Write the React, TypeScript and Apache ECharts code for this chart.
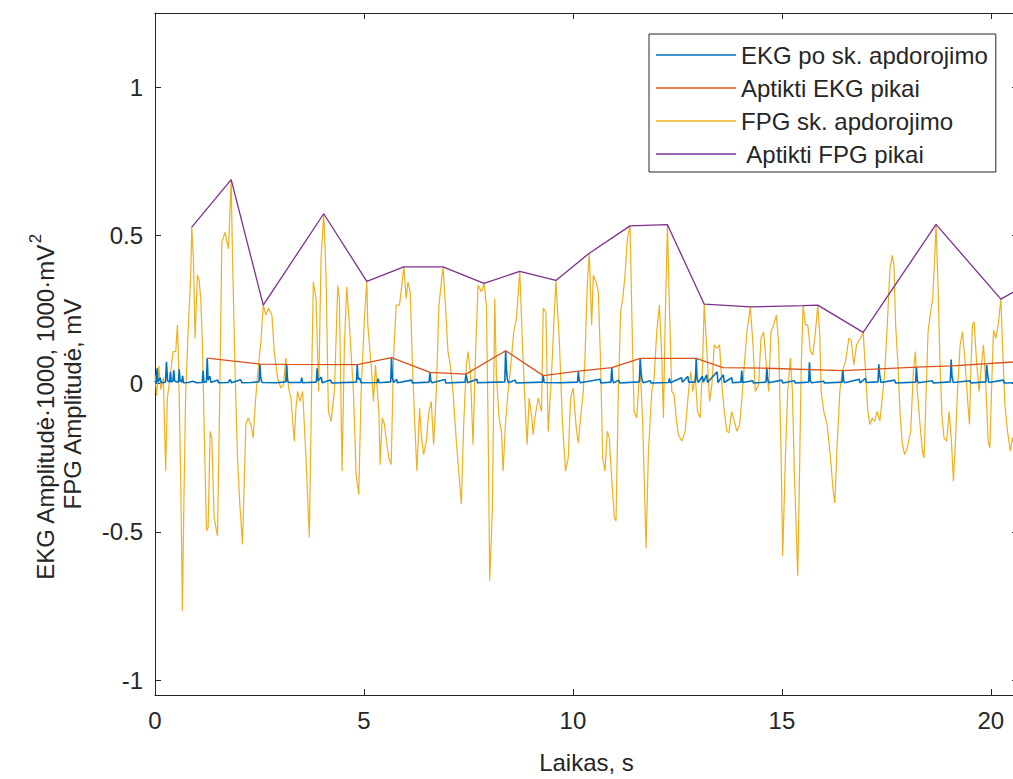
import React, { useEffect, useRef } from "react";
import * as echarts from "echarts";

const xTicks = [0, 5, 10, 15, 20];
const yTicks = [-1, -0.5, 0, 0.5, 1];

const ekg: number[][] = [
  [0, 0.01], [0.03, 0.0], [0.05, 0.052], [0.07, 0.005], [0.12, 0.02], [0.15, 0.003], [0.25, 0.005], [0.275, 0.074], [0.3, 0.01],
  [0.35, 0.005], [0.37, 0.04], [0.39, 0.005], [0.43, 0.01], [0.45, 0.045], [0.47, 0.008], [0.56, 0.005], [0.58, 0.048], [0.6, 0.01],
  [0.64, 0.005], [0.66, 0.026], [0.68, 0.003], [0.8, 0.004], [0.9, 0.008], [1.0, 0.003], [1.13, 0.004], [1.15, 0.043], [1.17, 0.005],
  [1.23, 0.006], [1.25, 0.086], [1.27, 0.012], [1.31, 0.025], [1.34, 0.004], [1.5, 0.012], [1.52, 0.003], [1.75, 0.004], [1.8, 0.014],
  [1.83, 0.003], [2.05, 0.013], [2.08, 0.003], [2.3, 0.004], [2.49, 0.006], [2.51, 0.066], [2.53, 0.02], [2.56, 0.004], [2.9, 0.003],
  [3.13, 0.006], [3.15, 0.064], [3.17, 0.01], [3.2, 0.004], [3.49, 0.004], [3.51, 0.02], [3.53, 0.003], [3.86, 0.005], [3.88, 0.052],
  [3.9, 0.01], [3.98, 0.022], [4.0, 0.003], [4.2, 0.012], [4.23, 0.002], [4.82, 0.005], [4.84, 0.064], [4.86, 0.015], [4.9, 0.018],
  [4.93, 0.003], [5.32, 0.004], [5.34, 0.017], [5.36, 0.003], [5.64, 0.006], [5.66, 0.088], [5.68, 0.02], [5.71, 0.004], [5.78, 0.015],
  [5.8, 0.003], [6.14, 0.012], [6.16, 0.002], [6.56, 0.005], [6.58, 0.038], [6.6, 0.01], [6.63, 0.003], [6.94, 0.014], [6.96, 0.002],
  [7.42, 0.005], [7.44, 0.032], [7.46, 0.02], [7.48, 0.003], [7.7, 0.015], [7.72, 0.003], [8.37, 0.006], [8.39, 0.111], [8.41, 0.05],
  [8.43, 0.015], [8.46, 0.003], [8.62, 0.012], [8.64, 0.002], [9.27, 0.005], [9.29, 0.027], [9.31, 0.004], [9.7, 0.003], [10.11, 0.005],
  [10.13, 0.042], [10.15, 0.01], [10.18, 0.003], [10.65, 0.015], [10.67, 0.002], [10.91, 0.005], [10.93, 0.054], [10.95, 0.01],
  [10.98, 0.003], [11.1, 0.012], [11.12, 0.002], [11.59, 0.006], [11.61, 0.085], [11.63, 0.04], [11.65, 0.015], [11.68, 0.003],
  [11.85, 0.01], [11.87, 0.002], [12.29, 0.004], [12.31, 0.018], [12.33, 0.003], [12.6, 0.02], [12.62, 0.005], [12.75, 0.025],
  [12.77, 0.005], [12.93, 0.006], [12.95, 0.085], [12.97, 0.02], [13.0, 0.004], [13.1, 0.025], [13.12, 0.005], [13.2, 0.03],
  [13.22, 0.004], [13.45, 0.04], [13.47, 0.004], [13.6, 0.03], [13.62, 0.004], [13.8, 0.02], [13.82, 0.003], [14.02, 0.005],
  [14.04, 0.044], [14.06, 0.004], [14.3, 0.01], [14.32, 0.002], [14.62, 0.005], [14.64, 0.052], [14.66, 0.015], [14.69, 0.003],
  [15.0, 0.012], [15.02, 0.002], [15.3, 0.01], [15.32, 0.002], [15.64, 0.005], [15.66, 0.072], [15.68, 0.01], [15.71, 0.003],
  [16.0, 0.008], [16.02, 0.002], [16.44, 0.005], [16.46, 0.044], [16.48, 0.008], [16.51, 0.003], [16.85, 0.015], [16.87, 0.003],
  [17.0, 0.018], [17.02, 0.004], [17.3, 0.006], [17.32, 0.065], [17.34, 0.03], [17.37, 0.004], [17.7, 0.012], [17.72, 0.002],
  [18.2, 0.005], [18.22, 0.056], [18.24, 0.01], [18.27, 0.003], [18.6, 0.01], [18.62, 0.002], [19.03, 0.006], [19.05, 0.081],
  [19.07, 0.025], [19.1, 0.004], [19.5, 0.01], [19.52, 0.002], [19.88, 0.006], [19.9, 0.063], [19.92, 0.035], [19.95, 0.004],
  [20.3, 0.012], [20.32, 0.002], [20.65, 0.004],
];

const ekgPeaks: number[][] = [
  [1.25, 0.086], [2.51, 0.066], [3.15, 0.065], [4.84, 0.064], [5.66, 0.088], [6.58, 0.038], [7.44, 0.032], [8.39, 0.111],
  [9.29, 0.027], [10.13, 0.042], [10.93, 0.054], [11.61, 0.085], [12.95, 0.085], [13.59, 0.054], [14.64, 0.052], [16.46, 0.044],
  [18.22, 0.056], [19.07, 0.06], [20.65, 0.074],
];

const fpg: number[][] = [
  [0, 0.03], [0.04, -0.04], [0.09, 0.06], [0.14, -0.02], [0.2, 0.02], [0.256, -0.295], [0.296, -0.049], [0.376, 0.041], [0.432, 0.108],
  [0.496, 0.108], [0.536, 0.198], [0.56, 0.097], [0.615, -0.318], [0.655, -0.766], [0.695, -0.362], [0.735, -0.026], [0.8, 0.198],
  [0.855, 0.366], [0.879, 0.528], [0.919, 0.422], [0.959, 0.153], [1.015, 0.366], [1.055, 0.349], [1.095, 0.287], [1.135, 0.131],
  [1.175, -0.138], [1.231, -0.496], [1.271, -0.485], [1.319, -0.161], [1.359, -0.183], [1.415, -0.452], [1.495, -0.514], [1.551, -0.026],
  [1.599, 0.478], [1.679, 0.511], [1.719, 0.478], [1.759, 0.455], [1.823, 0.688], [1.855, 0.422], [1.918, 0.03], [1.974, -0.25],
  [2.03, -0.407], [2.094, -0.542], [2.174, -0.138], [2.23, -0.116], [2.294, -0.138], [2.35, -0.183], [2.398, -0.071], [2.454, 0.03],
  [2.534, 0.142], [2.59, 0.265], [2.654, 0.231], [2.718, 0.254], [2.798, 0.231], [2.854, 0.108], [2.934, 0.018], [3.014, -0.015],
  [3.07, -0.004], [3.134, 0.086], [3.197, -0.015], [3.253, -0.049], [3.333, -0.194], [3.373, -0.082], [3.413, -0.026], [3.469, -0.06],
  [3.533, -0.026], [3.613, -0.25], [3.693, -0.519], [3.757, 0.086], [3.789, 0.343], [3.853, 0.287], [3.917, -0.026], [3.973, 0.422],
  [4.037, 0.573], [4.093, 0.366], [4.149, -0.094], [4.213, -0.127], [4.293, -0.026], [4.373, 0.332], [4.412, 0.287], [4.476, -0.295],
  [4.532, 0.131], [4.588, 0.326], [4.652, 0.198], [4.748, -0.026], [4.812, -0.306], [4.876, -0.374], [4.932, -0.026], [5.012, 0.22],
  [5.068, 0.345], [5.092, 0.198], [5.172, 0.063], [5.228, -0.06], [5.276, 0.063], [5.356, -0.094], [5.388, -0.273], [5.436, -0.116],
  [5.492, -0.138], [5.548, -0.206], [5.596, -0.25], [5.652, -0.273], [5.708, 0.086], [5.772, 0.265], [5.851, 0.265], [5.955, 0.394],
  [6.011, 0.287], [6.051, 0.343], [6.107, 0.31], [6.155, 0.086], [6.211, -0.116], [6.267, -0.295], [6.331, -0.082], [6.371, -0.172],
  [6.427, -0.239], [6.491, -0.194], [6.555, -0.094], [6.611, -0.06], [6.667, -0.206], [6.731, -0.026], [6.795, 0.265], [6.891, 0.394],
  [6.954, 0.254], [7.01, 0.108], [7.066, 0.063], [7.13, -0.026], [7.21, -0.194], [7.274, -0.306], [7.33, -0.407], [7.386, -0.138],
  [7.45, 0.063], [7.49, 0.108], [7.546, 0.041], [7.61, -0.206], [7.666, 0.086], [7.73, 0.332], [7.81, 0.31], [7.874, 0.338],
  [7.93, 0.265], [7.97, -0.138], [8.01, -0.665], [8.074, -0.419], [8.129, 0.287], [8.169, 0.03], [8.233, -0.116], [8.289, -0.161],
  [8.329, -0.295], [8.385, -0.138], [8.449, -0.026], [8.529, 0.086], [8.585, 0.175], [8.649, 0.22], [8.729, 0.379], [8.793, 0.131],
  [8.849, -0.049], [8.905, -0.206], [8.953, -0.049], [9.009, -0.105], [9.049, -0.172], [9.089, -0.116], [9.169, -0.049], [9.249, -0.094],
  [9.289, 0.254], [9.353, 0.242], [9.408, -0.161], [9.488, 0.03], [9.592, 0.348], [9.672, 0.153], [9.752, -0.138], [9.824, -0.295],
  [9.888, -0.25], [9.944, -0.049], [10.008, -0.015], [10.072, -0.138], [10.128, -0.2], [10.184, -0.116], [10.248, -0.026], [10.288, 0.086],
  [10.344, 0.332], [10.392, 0.44], [10.448, 0.198], [10.488, 0.366], [10.552, 0.343], [10.608, 0.31], [10.664, 0.063], [10.712, -0.25],
  [10.767, -0.295], [10.823, -0.161], [10.871, -0.183], [10.927, -0.318], [10.991, -0.452], [11.031, -0.463], [11.087, -0.026],
  [11.143, 0.242], [11.191, 0.287], [11.247, 0.366], [11.303, 0.489], [11.367, 0.532], [11.415, 0.198], [11.463, -0.094], [11.527, -0.116],
  [11.607, 0.063], [11.671, -0.138], [11.751, -0.553], [11.807, -0.228], [11.887, -0.026], [11.943, 0.018], [12.006, 0.175], [12.07, 0.265],
  [12.126, 0.086], [12.166, -0.116], [12.206, 0.198], [12.262, 0.536], [12.31, 0.254], [12.366, -0.026], [12.422, -0.038], [12.47, -0.116],
  [12.526, -0.172], [12.606, -0.194], [12.686, -0.161], [12.766, -0.026], [12.822, 0.041], [12.87, -0.026], [12.926, 0.03], [12.982, -0.094],
  [13.046, -0.116], [13.102, 0.063], [13.142, 0.268], [13.206, 0.108], [13.27, -0.06], [13.325, -0.004], [13.381, 0.131], [13.445, 0.119],
  [13.509, 0.131], [13.565, -0.004], [13.621, -0.094], [13.685, -0.161], [13.733, -0.166], [13.797, -0.094], [13.861, -0.127],
  [13.925, -0.161], [13.989, -0.138], [14.045, -0.049], [14.101, 0.063], [14.165, 0.175], [14.245, 0.259], [14.309, 0.131], [14.365, -0.026],
  [14.444, -0.004], [14.5, 0.153], [14.564, 0.175], [14.628, 0.063], [14.684, -0.026], [14.74, 0.175], [14.804, 0.198], [14.868, 0.231],
  [14.924, 0.131], [14.98, -0.228], [15.02, -0.581], [15.084, -0.25], [15.14, -0.026], [15.204, 0.086], [15.252, -0.026], [15.3, -0.306],
  [15.38, -0.648], [15.428, -0.25], [15.46, 0.041], [15.508, 0.263], [15.564, 0.198], [15.62, 0.198], [15.683, 0.108], [15.739, 0.097],
  [15.803, 0.175], [15.859, 0.265], [15.907, 0.164], [15.939, -0.026], [16.003, -0.094], [16.083, -0.138], [16.163, -0.25], [16.227, -0.362],
  [16.267, -0.402], [16.323, -0.206], [16.387, -0.026], [16.443, 0.041], [16.523, 0.075], [16.603, 0.153], [16.659, 0.147], [16.723, 0.063],
  [16.787, 0.131], [16.882, 0.153], [16.946, 0.173], [17.002, 0.041], [17.058, -0.094], [17.106, -0.138], [17.162, -0.116], [17.218, -0.127],
  [17.282, -0.094], [17.346, -0.127], [17.402, -0.049], [17.458, 0.03], [17.522, 0.198], [17.586, 0.388], [17.642, 0.433], [17.682, 0.399],
  [17.722, 0.198], [17.778, 0.063], [17.826, -0.094], [17.882, -0.206], [17.938, -0.239], [18.002, -0.217], [18.082, -0.161], [18.146, 0.041],
  [18.194, 0.108], [18.242, -0.026], [18.306, -0.138], [18.362, -0.228], [18.402, -0.25], [18.458, -0.004], [18.497, 0.175], [18.561, 0.242],
  [18.609, 0.287], [18.657, 0.422], [18.689, 0.537], [18.737, 0.332], [18.785, 0.063], [18.833, -0.116], [18.881, -0.183], [18.945, -0.194],
  [19.001, -0.094], [19.057, -0.194], [19.105, -0.329], [19.153, -0.194], [19.201, -0.026], [19.265, 0.131], [19.321, 0.175], [19.377, 0.086],
  [19.441, -0.049], [19.489, -0.138], [19.52, 0.041], [19.56, 0.198], [19.6, 0.209], [19.664, 0.063], [19.72, -0.026], [19.776, 0.063],
  [19.824, 0.131], [19.88, -0.004], [19.936, -0.194], [19.976, -0.217], [20.016, -0.026], [20.064, 0.181], [20.12, 0.153], [20.176, 0.198],
  [20.24, 0.285], [20.28, 0.131], [20.336, -0.071], [20.4, -0.161], [20.464, -0.228], [20.52, -0.183], [20.552, -0.206], [20.6, -0.12],
  [20.65, -0.03],
];

const fpgPeaks: number[][] = [
  [0.879, 0.528], [1.823, 0.688], [2.59, 0.265], [4.037, 0.573], [5.068, 0.345], [5.955, 0.394], [6.891, 0.394], [7.874, 0.338],
  [8.729, 0.379], [9.592, 0.348], [10.392, 0.44], [11.367, 0.532], [12.262, 0.536], [13.142, 0.268], [14.245, 0.259], [15.508, 0.263],
  [15.859, 0.265], [16.946, 0.173], [18.689, 0.537], [20.24, 0.285], [20.65, 0.318],
];

const seriesNames = ["EKG po sk. apdorojimo", "Aptikti EKG pikai", "FPG sk. apdorojimo", " Aptikti FPG pikai"];
const colors = ["#0072BD", "#D95319", "#EDB120", "#7E2F8E"];
const widths = [1.6, 1.3, 1.2, 1.3];

const FONT = "'Liberation Sans', Arial, Helvetica, sans-serif";
const AX = "#262626";

export default function App() {
  const ref = useRef<HTMLDivElement>(null);
  useEffect(() => {
    if (!ref.current) return;
    const chart = echarts.init(ref.current, undefined, { renderer: "svg" });
    const axisLineStyle = { color: AX, width: 1 };
    const mkX = (pos: string, main: boolean) => ({
      type: "value",
      min: 0,
      max: 20.65,
      position: pos,
      axisLine: { show: true, onZero: false, lineStyle: axisLineStyle },
      axisTick: { show: true, inside: true, length: 6, customValues: xTicks, lineStyle: axisLineStyle },
      axisLabel: {
        show: main,
        customValues: xTicks,
        fontSize: 24,
        color: AX,
        fontFamily: FONT,
        margin: 13,
        formatter: (v: number) => String(v),
      },
      splitLine: { show: false },
      ...(main
        ? { name: "Laikas, s", nameLocation: "middle", nameGap: 55, nameTextStyle: { fontSize: 24, color: AX, fontFamily: FONT } }
        : {}),
    });
    const mkY = (pos: string, main: boolean) => ({
      type: "value",
      min: -1.05,
      max: 1.25,
      position: pos,
      axisLine: { show: true, onZero: false, lineStyle: axisLineStyle },
      axisTick: { show: true, inside: true, length: 6, customValues: yTicks, lineStyle: axisLineStyle },
      axisLabel: {
        show: main,
        customValues: yTicks,
        fontSize: 24,
        color: AX,
        fontFamily: FONT,
        margin: 12,
        formatter: (v: number) => String(v),
      },
      splitLine: { show: false },
    });
    const datasets = [ekg, ekgPeaks, fpg, fpgPeaks];
    const order = [2, 0, 1, 3];
    chart.setOption({
      animation: false,
      backgroundColor: "#ffffff",
      textStyle: { fontFamily: FONT },
      grid: { left: 155, right: 12, top: 13, bottom: 80 },
      xAxis: [mkX("bottom", true), mkX("top", false)],
      yAxis: [mkY("left", true), mkY("right", false)],
      legend: {
        orient: "vertical",
        left: 649,
        top: 34,
        padding: [8, 8, 5, 7],
        itemGap: 7,
        itemWidth: 80,
        itemHeight: 1.5,
        icon: "rect",
        backgroundColor: "#ffffff",
        borderColor: AX,
        borderWidth: 1,
        textStyle: { fontSize: 24, color: AX, fontFamily: FONT, lineHeight: 26 },
        data: seriesNames,
      },
      graphic: [
        {
          type: "text",
          x: 42,
          y: 407,
          rotation: Math.PI / 2,
          style: {
            text: "{n|EKG Amplitudė·1000, 1000·mV}{s|2}",
            fontFamily: FONT,
            fill: AX,
            align: "center",
            verticalAlign: "middle",
            rich: {
              n: { fontSize: 24, fontFamily: FONT, fill: AX, lineHeight: 30, verticalAlign: "bottom" },
              s: { fontSize: 17, fontFamily: FONT, fill: AX, lineHeight: 30, verticalAlign: "top", padding: [0, 0, 0, 1] },
            },
          },
        },
        {
          type: "text",
          x: 72,
          y: 404,
          rotation: Math.PI / 2,
          style: {
            text: "FPG Amplitudė, mV",
            fontSize: 24,
            fontFamily: FONT,
            fill: AX,
            align: "center",
            verticalAlign: "middle",
          },
        },
      ],
      series: order.map((i) => ({
        name: seriesNames[i],
        type: "line",
        data: datasets[i],
        symbol: "none",
        showSymbol: false,
        xAxisIndex: 0,
        yAxisIndex: 0,
        z: i === 2 ? 1 : 2 + i,
        lineStyle: { color: colors[i], width: widths[i] },
        itemStyle: { color: colors[i] },
      })),
    });
    return () => chart.dispose();
  }, []);
  return (
    <div style={{ position: "fixed", left: 0, top: 0, width: 1013, height: 779, overflow: "hidden", background: "#fff" }}>
      <div ref={ref} style={{ width: 1030, height: 779 }} />
    </div>
  );
}
